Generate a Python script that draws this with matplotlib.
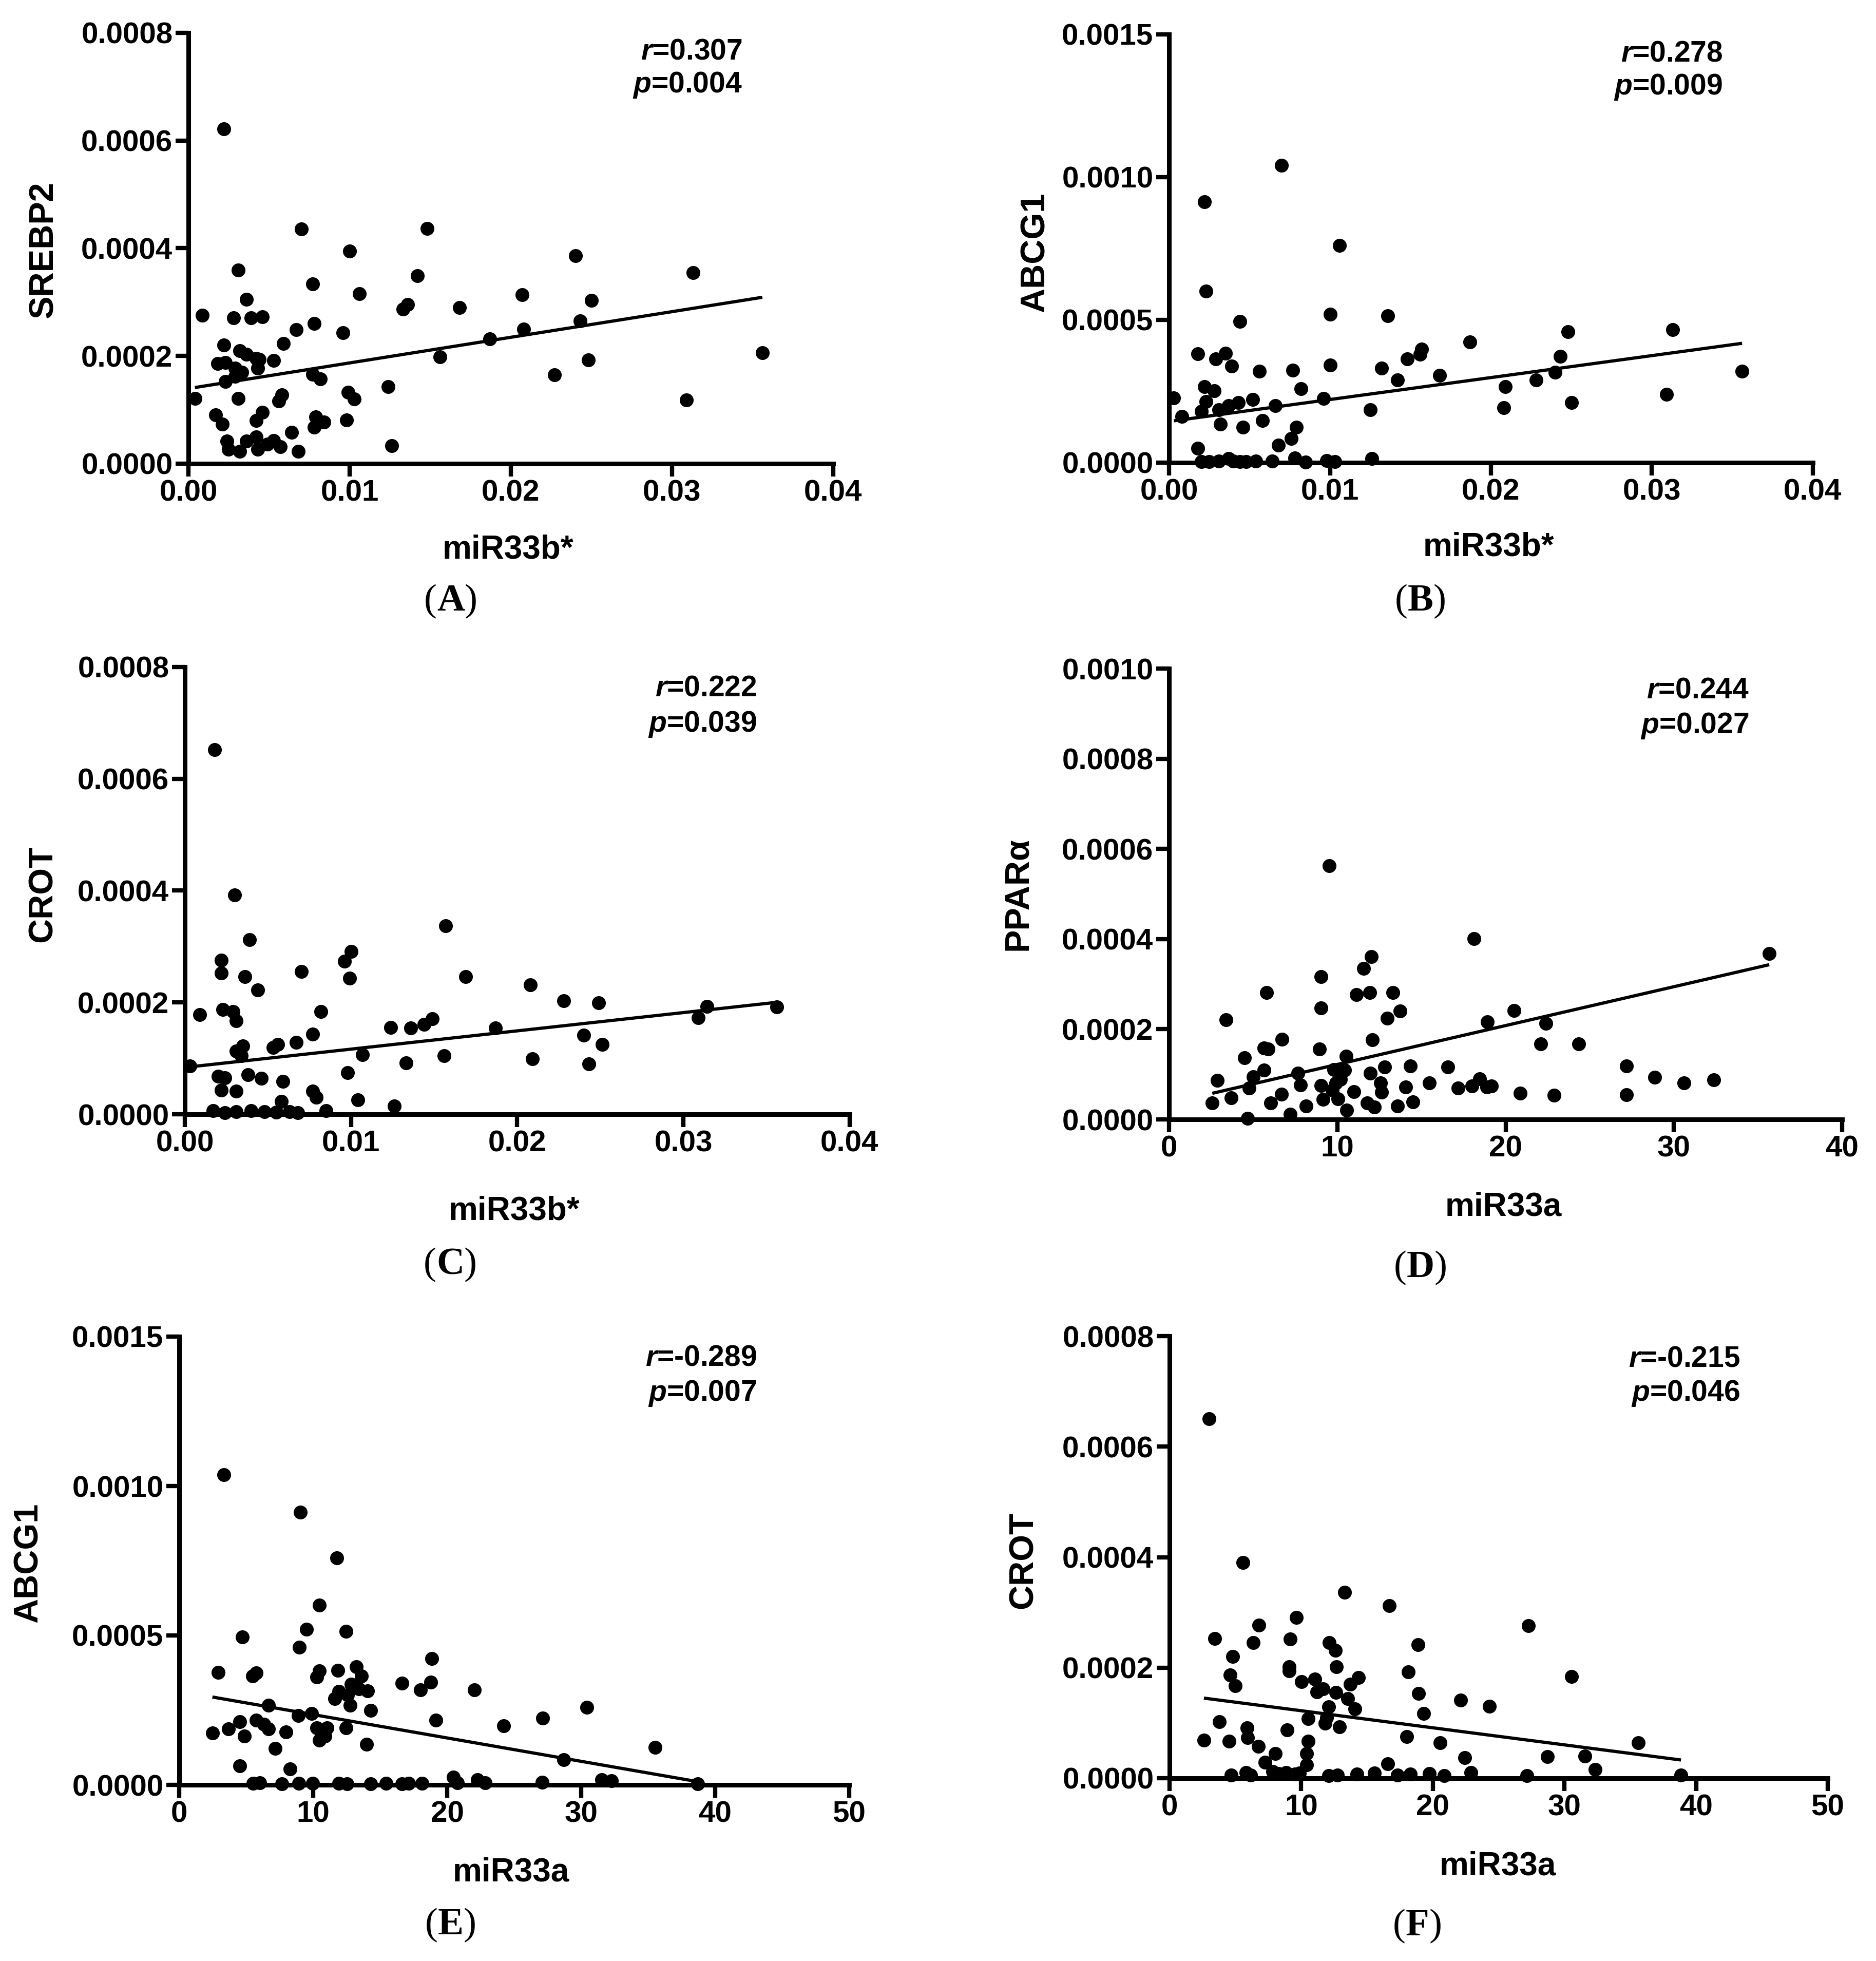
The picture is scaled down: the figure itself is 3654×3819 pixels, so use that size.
import numpy as np
import matplotlib
matplotlib.use("Agg")
import matplotlib.pyplot as plt
from matplotlib.ticker import FormatStrFormatter, MultipleLocator

plt.rcParams["font.family"] = ["Liberation Sans", "DejaVu Sans"]
plt.rcParams["font.weight"] = "bold"
plt.rcParams["mathtext.fontset"] = "custom"
plt.rcParams["mathtext.it"] = "Liberation Sans:italic:bold"
plt.rcParams["mathtext.rm"] = "Liberation Sans:bold"

# ── data (y values in units of 1e-4) ──────────────────────────────────────────

# (A) miR33b* vs SREBP2
a_x = [0.0022, 0.00085, 0.0028, 0.0039, 0.0046, 0.0031, 0.0036, 0.0070, 0.0148, 0.0100,
       0.0240, 0.0313, 0.0142, 0.0077, 0.0106, 0.0207, 0.0133, 0.0136, 0.0168, 0.0250,
       0.0243, 0.0078, 0.0067, 0.0096, 0.0208, 0.0187, 0.0022, 0.0059, 0.0032, 0.0036,
       0.0042, 0.0044, 0.0053, 0.0156, 0.0248, 0.0356, 0.0018, 0.0023, 0.0029, 0.0043,
       0.0029, 0.0033, 0.0023, 0.0077, 0.0082, 0.0227, 0.0124, 0.0004, 0.0031, 0.0058,
       0.0056, 0.0099, 0.0103, 0.0309, 0.0046, 0.0017, 0.0021, 0.0042, 0.0079, 0.0084,
       0.0078, 0.0098, 0.0064, 0.0024, 0.0025, 0.0036, 0.0032, 0.0042, 0.0043, 0.0049,
       0.0057, 0.0053, 0.0068, 0.0126]
a_y = [6.22, 2.76, 2.71, 2.71, 2.73, 3.59, 3.05, 4.36, 4.37, 3.95,
       3.86, 3.55, 3.49, 3.34, 3.16, 3.14, 2.87, 2.96, 2.90, 3.03,
       2.65, 2.60, 2.49, 2.43, 2.50, 2.32, 2.20, 2.23, 2.10, 2.03,
       1.95, 1.94, 1.92, 1.98, 1.93, 2.06, 1.86, 1.88, 1.77, 1.77,
       1.62, 1.70, 1.53, 1.66, 1.57, 1.65, 1.43, 1.21, 1.21, 1.28,
       1.16, 1.33, 1.20, 1.18, 0.95, 0.91, 0.73, 0.80, 0.87, 0.77,
       0.68, 0.81, 0.58, 0.42, 0.27, 0.42, 0.23, 0.50, 0.27, 0.36,
       0.31, 0.43, 0.23, 0.33]

# (B) miR33b* vs ABCG1
b_x = [0.0070, 0.0022, 0.0106, 0.0023, 0.0044, 0.0100, 0.0136, 0.0248, 0.0313, 0.0187,
       0.0018, 0.0035, 0.0029, 0.0039, 0.0157, 0.0156, 0.0148, 0.0243, 0.0056, 0.0077,
       0.0100, 0.0132, 0.0168, 0.0142, 0.0228, 0.0240, 0.0356, 0.0022, 0.0209, 0.0082,
       0.0028, 0.0003, 0.0309, 0.0023, 0.0052, 0.0096, 0.0043, 0.0037, 0.0250, 0.0208,
       0.0066, 0.0125, 0.0020, 0.0031, 0.0008, 0.0032, 0.0058, 0.0046, 0.0079, 0.0076,
       0.0068, 0.0018, 0.0020, 0.0025, 0.0031, 0.0037, 0.0040, 0.0044, 0.0048, 0.0054,
       0.0064, 0.0078, 0.0085, 0.0098, 0.0103, 0.0126]
b_y = [10.41, 9.14, 7.61, 6.00, 4.95, 5.20, 5.14, 4.58, 4.65, 4.23,
       3.81, 3.83, 3.63, 3.38, 3.98, 3.79, 3.63, 3.72, 3.20, 3.24,
       3.42, 3.31, 3.06, 2.90, 2.90, 3.17, 3.21, 2.66, 2.66, 2.59,
       2.51, 2.27, 2.39, 2.14, 2.21, 2.25, 2.11, 2.00, 2.10, 1.93,
       2.00, 1.85, 1.79, 1.86, 1.61, 1.34, 1.48, 1.24, 1.24, 0.85,
       0.62, 0.51, 0.04, 0.03, 0.05, 0.15, 0.06, 0.03, 0.04, 0.05,
       0.06, 0.17, 0.02, 0.08, 0.03, 0.14]

# (C) miR33b* vs CROT
c_x = [0.0018, 0.0030, 0.0039, 0.0157, 0.0022, 0.0022, 0.0036, 0.0044, 0.0070, 0.0096,
       0.0100, 0.0099, 0.0169, 0.0208, 0.0228, 0.0249, 0.0009, 0.0023, 0.0029, 0.0031,
       0.0082, 0.0314, 0.0356, 0.0309, 0.0149, 0.0144, 0.0136, 0.0124, 0.0187, 0.0077,
       0.0240, 0.0067, 0.0035, 0.0056, 0.0053, 0.0251, 0.0031, 0.0034, 0.0107, 0.0156,
       0.0209, 0.0243, 0.0133, 0.0003, 0.0020, 0.0024, 0.0038, 0.0046, 0.0059, 0.0098,
       0.0022, 0.0031, 0.0077, 0.0079, 0.0104, 0.0058, 0.0126, 0.0017, 0.0024, 0.0031,
       0.0040, 0.0048, 0.0055, 0.0063, 0.0068, 0.0085]
c_y = [6.52, 3.92, 3.12, 3.37, 2.76, 2.53, 2.46, 2.22, 2.55, 2.74,
       2.91, 2.43, 2.46, 2.31, 2.03, 1.99, 1.78, 1.87, 1.84, 1.67,
       1.84, 1.93, 1.92, 1.73, 1.71, 1.61, 1.54, 1.55, 1.54, 1.43,
       1.41, 1.29, 1.22, 1.25, 1.19, 1.25, 1.13, 1.05, 1.07, 1.05,
       0.99, 0.90, 0.92, 0.86, 0.68, 0.65, 0.71, 0.64, 0.59, 0.74,
       0.43, 0.41, 0.41, 0.30, 0.26, 0.23, 0.15, 0.06, 0.03, 0.05,
       0.06, 0.05, 0.04, 0.05, 0.03, 0.06]

# (D) miR33a vs PPARalpha
d_x = [9.53, 18.12, 35.67, 12.03, 11.57, 9.04, 5.80, 11.15, 11.93, 13.30,
       9.04, 13.72, 12.98, 3.38, 20.51, 18.93, 22.38, 6.72, 12.07, 22.09,
       24.34, 5.63, 5.88, 8.95, 4.47, 10.52, 12.81, 14.35, 16.57, 27.19,
       5.63, 7.67, 9.78, 10.45, 11.96, 2.88, 5.00, 7.81, 9.04, 9.92,
       10.20, 12.56, 14.07, 15.48, 17.17, 18.01, 18.47, 18.89, 19.17, 28.85,
       30.61, 32.37, 3.69, 4.75, 6.68, 9.71, 10.98, 12.63, 20.86, 22.87,
       27.19, 2.57, 6.05, 8.16, 9.15, 10.03, 11.79, 12.21, 13.58, 14.49,
       10.55, 7.21, 4.68]
d_y = [5.63, 4.01, 3.68, 3.61, 3.35, 3.17, 2.81, 2.77, 2.81, 2.81,
       2.47, 2.40, 2.24, 2.21, 2.42, 2.16, 2.13, 1.78, 1.76, 1.67,
       1.67, 1.58, 1.56, 1.56, 1.37, 1.40, 1.16, 1.18, 1.16, 1.18,
       1.09, 1.03, 1.11, 1.09, 1.03, 0.86, 0.95, 0.76, 0.75, 0.81,
       0.89, 0.81, 0.72, 0.81, 0.70, 0.74, 0.90, 0.72, 0.74, 0.93,
       0.81, 0.88, 0.48, 0.69, 0.56, 0.65, 0.61, 0.60, 0.58, 0.53,
       0.55, 0.36, 0.37, 0.30, 0.44, 0.46, 0.36, 0.27, 0.30, 0.39,
       0.21, 0.11, 0.02]

# (E) miR33a vs ABCG1
e_x = [3.34, 9.04, 11.78, 10.45, 9.51, 12.47, 4.71, 8.95, 18.85, 2.91,
       5.74, 5.48, 10.45, 10.28, 11.82, 13.20, 13.62, 12.85, 13.41, 14.05,
       16.62, 18.76, 17.99, 22.02, 11.91, 11.61, 12.55, 12.77, 30.42, 6.68,
       14.31, 9.90, 8.87, 27.12, 19.15, 4.54, 5.74, 6.34, 6.68, 24.21,
       3.68, 10.28, 11.05, 12.47, 2.48, 4.88, 7.97, 10.45, 10.88, 13.97,
       7.16, 35.52, 28.71, 4.54, 8.27, 5.53, 6.00, 7.66, 8.94, 9.97,
       11.92, 12.52, 14.28, 15.43, 16.63, 17.14, 18.13, 20.47, 20.77, 22.27,
       22.83, 27.07, 31.54, 32.27, 38.69]
e_y = [10.38, 9.12, 7.60, 6.01, 5.20, 5.14, 4.95, 4.60, 4.23, 3.77,
       3.75, 3.64, 3.82, 3.61, 3.84, 3.95, 3.64, 3.36, 3.22, 3.15,
       3.40, 3.43, 3.18, 3.18, 3.12, 2.88, 3.01, 2.67, 2.60, 2.67,
       2.49, 2.39, 2.32, 2.23, 2.16, 2.12, 2.16, 2.02, 1.88, 1.98,
       1.87, 1.91, 1.91, 1.91, 1.73, 1.63, 1.77, 1.49, 1.63, 1.35,
       1.22, 1.26, 0.84, 0.64, 0.53, 0.06, 0.07, 0.04, 0.05, 0.06,
       0.05, 0.04, 0.04, 0.05, 0.04, 0.05, 0.06, 0.25, 0.07, 0.18,
       0.07, 0.08, 0.18, 0.14, 0.04]

# (F) miR33a vs CROT
f_x = [3.01, 5.58, 13.31, 16.68, 27.25, 9.62, 6.79, 3.42, 9.17, 6.34,
       12.14, 18.88, 12.59, 4.81, 12.68, 9.08, 9.08, 18.12, 4.59, 30.53,
       14.34, 10.03, 11.02, 4.99, 13.71, 11.65, 11.20, 12.63, 18.93, 13.53,
       22.12, 24.28, 12.10, 14.07, 19.29, 11.92, 10.52, 11.83, 12.90, 3.78,
       5.89, 8.95, 2.61, 4.54, 5.94, 10.52, 18.03, 20.55, 35.61, 6.74,
       8.05, 10.43, 31.57, 22.44, 28.72, 7.24, 16.59, 10.43, 32.33, 4.68,
       5.80, 6.16, 7.82, 8.27, 8.86, 9.53, 9.85, 12.10, 12.77, 14.25,
       15.56, 17.31, 18.30, 19.74, 20.86, 22.89, 27.16, 38.85]
f_y = [6.50, 3.90, 3.36, 3.12, 2.76, 2.91, 2.77, 2.53, 2.52, 2.45,
       2.45, 2.42, 2.31, 2.20, 2.02, 2.02, 1.94, 1.92, 1.87, 1.84,
       1.82, 1.75, 1.79, 1.67, 1.70, 1.62, 1.56, 1.55, 1.53, 1.44,
       1.41, 1.30, 1.29, 1.25, 1.17, 1.10, 1.08, 0.99, 0.93, 1.02,
       0.91, 0.87, 0.69, 0.67, 0.73, 0.67, 0.75, 0.64, 0.64, 0.58,
       0.45, 0.45, 0.40, 0.37, 0.39, 0.29, 0.26, 0.24, 0.16, 0.06,
       0.10, 0.06, 0.12, 0.08, 0.10, 0.07, 0.09, 0.05, 0.06, 0.07,
       0.09, 0.06, 0.07, 0.08, 0.05, 0.10, 0.05, 0.06]

# regression lines (intercept, slope), y in units of 1e-4
fit_a = (1.395, 47.6)
fit_b = (1.442, 76.9)
fit_c = (0.838, 32.7)
fit_d = (0.357, 0.0862)
fit_e = (3.134, -0.0782)
fit_f = (1.53, -0.0309)

stats = [("0.307", "0.004"), ("0.278", "0.009"), ("0.222", "0.039"),
         ("0.244", "0.027"), ("-0.289", "0.007"), ("-0.215", "0.046")]
y_names = ["SREBP2", "ABCG1", "CROT", "PPARα", "ABCG1", "CROT"]
x_names = ["miR33b*", "miR33b*", "miR33b*", "miR33a", "miR33a", "miR33a"]
letters = ["A", "B", "C", "D", "E", "F"]

# ── layout (pixel coordinates of the original picture) ────────────────────────
W, H = 3655, 3819
fig = plt.figure(figsize=(W / 100, H / 100), dpi=100)


def fx(px):
    return px / W


def fy(py):
    return 1 - py / H


# axes box: left, right, top, bottom
boxes = [(367, 1623, 64, 903), (2277, 3531, 67, 901),
         (360, 1655, 1299, 2170), (2277, 3588, 1302, 2180),
         (349, 1654, 2603, 3476), (2278, 3560, 2602, 3463)]
ylab_pos = [(86, 487), (2017, 491), (84, 1741), (1983, 1741), (56, 3043), (1994, 3039)]
xlab_pos = [(989, 1070), (2899, 1066), (1001, 2358), (2928, 2350), (995, 3646), (2917, 3634)]
stat_pos = [(1446, 100, 165), (3355, 104, 170), (1474, 1340, 1410),
            (3407, 1344, 1414), (1474, 2644, 2713), (3389, 2647, 2713)]
letter_pos = [(878, 1171), (2767, 1171), (877, 2463), (2767, 2469), (878, 3749), (2761, 3751)]
limits = [(0.04, 0.01, "%.2f", 0.0008, 0.0002), (0.04, 0.01, "%.2f", 0.0015, 0.0005),
          (0.04, 0.01, "%.2f", 0.0008, 0.0002), (40, 10, "%d", 0.0010, 0.0002),
          (50, 10, "%d", 0.0015, 0.0005), (50, 10, "%d", 0.0008, 0.0002)]

xs_all = [a_x, b_x, c_x, d_x, e_x, f_x]
ys_all = [a_y, b_y, c_y, d_y, e_y, f_y]
fits = [fit_a, fit_b, fit_c, fit_d, fit_e, fit_f]

for i in range(6):
    l, r, t, b = boxes[i]
    ax = fig.add_axes([fx(l), fy(b), (r - l) / W, (b - t) / H])
    x = np.array(xs_all[i])
    y = np.array(ys_all[i]) * 1e-4
    xmax, xstep, xfmt, ymax, ystep = limits[i]

    ax.scatter(x, y, s=380, color="black", linewidths=0, zorder=4, clip_on=False)
    icpt, slope = fits[i]
    lx = np.array([x.min(), x.max()])
    ax.plot(lx, (icpt + slope * lx) * 1e-4, color="black", lw=4.5, zorder=3,
            solid_capstyle="butt")

    ax.set_xlim(0, xmax)
    ax.set_ylim(0, ymax)
    ax.xaxis.set_major_locator(MultipleLocator(xstep))
    ax.yaxis.set_major_locator(MultipleLocator(ystep))
    ax.xaxis.set_major_formatter(FormatStrFormatter(xfmt))
    ax.yaxis.set_major_formatter(FormatStrFormatter("%.4f"))
    for side in ["top", "right"]:
        ax.spines[side].set_visible(False)
    for side in ["left", "bottom"]:
        ax.spines[side].set_linewidth(6.5)
        ax.spines[side].set_capstyle("projecting")
    ax.tick_params(direction="out", length=18, width=6, labelsize=42, pad=4)
    ax.patch.set_alpha(0)

    ax.set_ylabel(y_names[i], fontsize=48, fontweight="bold", va="center")
    ax.yaxis.set_label_coords(fx(ylab_pos[i][0]), fy(ylab_pos[i][1]),
                              transform=fig.transFigure)
    ax.set_xlabel(x_names[i], fontsize=46, fontweight="bold", va="center")
    ax.xaxis.set_label_coords(fx(xlab_pos[i][0]), fy(xlab_pos[i][1]),
                              transform=fig.transFigure)

    sx, ry, py = stat_pos[i]
    rv, pv = stats[i]
    fig.text(fx(sx), fy(ry), "$r$=" + rv, ha="right", va="center", fontsize=41)
    fig.text(fx(sx), fy(py), "$p$=" + pv, ha="right", va="center", fontsize=41)

    # panel letter: serif, bold letter in plain brackets
    cx, cy = letter_pos[i]
    lt = fig.text(fx(cx), fy(cy), letters[i], ha="center", va="center",
                  family="Liberation Serif", fontweight="bold", fontsize=54)
    fig.add_artist(plt.Annotation("(", xy=(0, 0), xycoords=lt, ha="right", va="bottom",
                                  family="Liberation Serif", fontweight="normal",
                                  fontsize=54))
    fig.add_artist(plt.Annotation(")", xy=(1, 0), xycoords=lt, ha="left", va="bottom",
                                  family="Liberation Serif", fontweight="normal",
                                  fontsize=54))

fig.savefig("out.png", dpi=100)
